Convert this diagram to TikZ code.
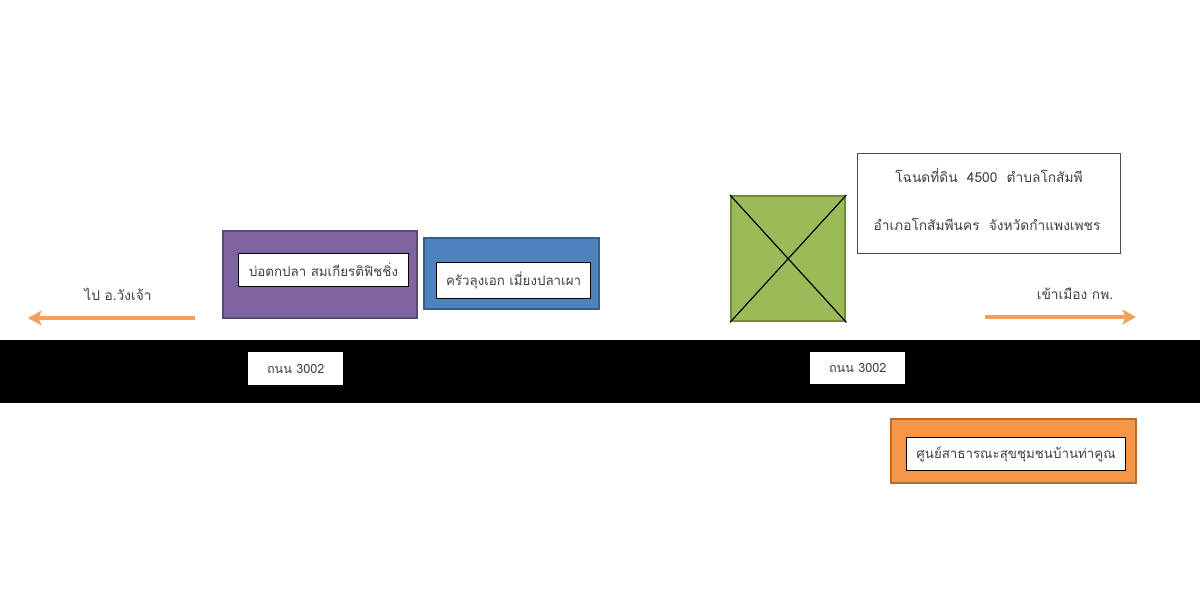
\documentclass[tikz,border=0pt]{standalone}
\usepackage{fontspec}
\usetikzlibrary{arrows.meta}
\newfontfamily\thaifont[Script=Thai]{Loma}
\definecolor{purplefill}{HTML}{8064A2}
\definecolor{purpleline}{HTML}{5C4776}
\definecolor{bluefill}{HTML}{4F81BD}
\definecolor{blueline}{HTML}{385D8A}
\definecolor{greenfill}{HTML}{9BBB59}
\definecolor{greenline}{HTML}{71893F}
\definecolor{orangefill}{HTML}{F79646}
\definecolor{orangeline}{HTML}{B66D31}
\definecolor{arrowcol}{HTML}{F3A05C}
\definecolor{txtgray}{HTML}{404040}
\begin{document}
\begin{tikzpicture}[x=0.75pt,y=-0.75pt,
  outerbox/.style={draw, line width=1.8pt, inner sep=0pt, anchor=north west},
  innerbox/.style={draw=black, fill=white, line width=0.8pt, inner sep=0pt, anchor=north west,
    font=\thaifont\fontsize{10}{12}\selectfont, text=txtgray},
  roadlabel/.style={fill=white, inner sep=0pt, anchor=north west,
    font=\thaifont\fontsize{9.5}{12}\selectfont, text=txtgray},
  freetext/.style={font=\thaifont\fontsize{10.3}{12}\selectfont, text=txtgray},
  dirarrow/.style={draw=arrowcol, line width=2.8pt, -{Stealth[length=10pt,width=11pt,inset=2pt]}}]
\useasboundingbox (0,0) rectangle (1200,615);
\fill[white] (0,0) rectangle (1200,615);
% road
\node[fill=black, minimum width=1200*0.75pt, minimum height=63*0.75pt, inner sep=0pt, anchor=north west] (road) at (0,340) {};
% road labels
\node[roadlabel, minimum width=95*0.75pt, minimum height=33*0.75pt] (r1) at (248,352) {ถนน 3002};
\node[roadlabel, minimum width=95*0.75pt, minimum height=32*0.75pt] (r2) at (810,352) {ถนน 3002};
% purple box
\node[outerbox, draw=purpleline, fill=purplefill, minimum width=194*0.75pt, minimum height=87*0.75pt] (purple) at (222,230) {};
\node[innerbox, minimum width=170*0.75pt, minimum height=33*0.75pt] (purplelbl) at (238,253) {บ่อตกปลา สมเกียรติฟิชชิ่ง};
% blue box
\node[outerbox, draw=blueline, fill=bluefill, minimum width=175*0.75pt, minimum height=71*0.75pt] (blue) at (423,237) {};
\node[innerbox, minimum width=154*0.75pt, minimum height=36*0.75pt] (bluelbl) at (436,262) {ครัวลุงเอก เมี่ยงปลาเผา};
% green plot
\node[outerbox, draw=greenline, fill=greenfill, minimum width=114*0.75pt, minimum height=125*0.75pt] (plot) at (730,195) {};
\draw[black, line width=0.9pt] (plot.north west) -- (plot.south east);
\draw[black, line width=0.9pt] (plot.north east) -- (plot.south west);
% deed box
\node[draw=black!70, fill=white, line width=0.8pt, inner sep=0pt, anchor=north west, minimum width=263*0.75pt, minimum height=100*0.75pt] (deed) at (857,153) {};
\node[freetext] (deed1) at (989,175) {โฉนดที่ดิน\ \ 4500\ \ ตำบลโกสัมพี};
\node[freetext] (deed2) at (987,224) {อำเภอโกสัมพีนคร\ \ จังหวัดกำแพงเพชร};
% orange box
\node[outerbox, draw=orangeline, fill=orangefill, minimum width=245*0.75pt, minimum height=64*0.75pt] (orange) at (890,418) {};
\node[innerbox, minimum width=219*0.75pt, minimum height=33*0.75pt] (orangelbl) at (906,437) {ศูนย์สาธารณะสุขชุมชนบ้านท่าคูณ};
% direction arrows
\coordinate (la) at (195,318);
\coordinate (lb) at (28,318);
\coordinate (ra) at (985,317);
\coordinate (rb) at (1136,317);
\draw[dirarrow] (la) -- (lb);
\draw[dirarrow] (ra) -- (rb);
\node[freetext] (ltext) at (118,294) {ไป อ.วังเจ้า};
\node[freetext] (rtext) at (1075,294) {เข้าเมือง กพ.};
\end{tikzpicture}
\end{document}
